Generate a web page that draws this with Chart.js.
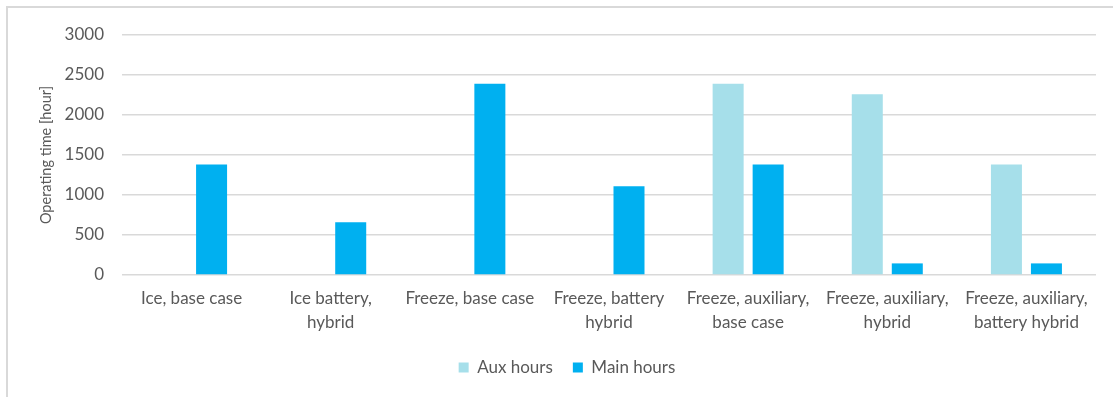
<!DOCTYPE html>
<html>
<head>
<meta charset="utf-8">
<script src="https://cdn.jsdelivr.net/npm/chart.js@4"></script>
<style>
  html, body { margin: 0; padding: 0; background: #fff; overflow: hidden; }
  #wrap { position: relative; width: 1113px; height: 397px; overflow: hidden; }
  #frame { position: absolute; left: 6px; top: 6px; width: 1200px; height: 500px;
           border-left: 2px solid #d9d9d9; border-top: 2px solid #d9d9d9; }
  canvas { position: absolute; left: 0; top: 0; }
</style>
</head>
<body>
<div id="wrap">
  <div id="frame"></div>
  <canvas id="c" width="1113" height="397"></canvas>
</div>
<script>
// Operating scenarios (x categories)
const categories = [
  "Ice, base case",
  ["Ice battery,", "hybrid"],
  "Freeze, base case",
  ["Freeze, battery", "hybrid"],
  ["Freeze, auxiliary,", "base case"],
  ["Freeze, auxiliary,", "hybrid"],
  ["Freeze, auxiliary,", "battery hybrid"]
];

// Operating hours per scenario
const auxHours  = [0, 0, 0, 0, 2390, 2260, 1380];
const mainHours = [1380, 660, 2390, 1110, 1380, 145, 145];

// Y axis range and step
const yMin = 0;
const yMax = 3000;
const yStep = 500;

const FONT = "Lato, 'Open Sans', sans-serif";
const TEXT = "#595959";
const GRID = "#d9d9d9";
const PAD_LEFT = 38;

new Chart(document.getElementById("c"), {
  type: "bar",
  data: {
    labels: categories,
    datasets: [
      { label: "Aux hours",  data: auxHours,  backgroundColor: "#a6dfea" },
      { label: "Main hours", data: mainHours, backgroundColor: "#00b0f0" }
    ]
  },
  options: {
    responsive: false,
    animation: false,
    categoryPercentage: 0.575,
    barPercentage: 0.775,
    layout: { padding: { left: PAD_LEFT, top: 35, right: 17, bottom: 11 } },
    plugins: {
      tooltip: { enabled: false },
      legend: {
        position: "bottom",
        labels: {
          boxWidth: 10, boxHeight: 10, padding: 20,
          color: TEXT, font: { family: FONT, size: 17 }
        }
      }
    },
    scales: {
      x: {
        grid: { display: false, drawTicks: false },
        border: { display: false },
        ticks: {
          color: TEXT, font: { family: FONT, size: 17, lineHeight: 1.4 },
          maxRotation: 0, autoSkip: false, padding: 12
        },
        afterFit: (s) => { s.height = 64; }
      },
      y: {
        min: yMin, max: yMax,
        grid: { color: GRID, lineWidth: 1.5, drawTicks: false },
        border: { display: false },
        ticks: {
          stepSize: yStep, color: TEXT, padding: 18,
          font: { family: FONT, size: 17 },
          callback: (v) => String(v)
        },
        title: {
          display: true, text: "Operating time [hour]",
          color: TEXT, font: { family: FONT, size: 14.5 }, padding: 0
        },
        afterFit: (s) => { s.width = 122 - PAD_LEFT; }
      }
    }
  }
});
</script>
</body>
</html>
